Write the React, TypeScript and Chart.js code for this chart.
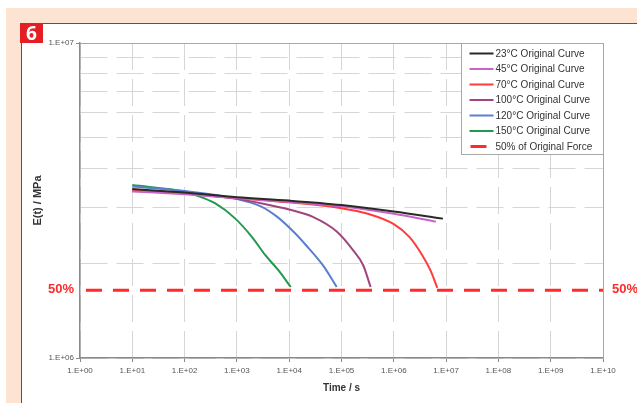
import React, { useEffect, useRef } from "react";
import { Chart, registerables } from "chart.js";

Chart.register(...registerables);

// ---- data ----
const seriesLabels = [
  "23°C Original Curve",
  "45°C Original Curve",
  "70°C Original Curve",
  "100°C Original Curve",
  "120°C Original Curve",
  "150°C Original Curve",
];
const halfLabel = "50% of Original Force";

const t23 = [10, 100, 1000, 1e4, 1e5, 1e6, 8.7e6];
const e23 = [3.44e6, 3.35e6, 3.24e6, 3.16e6, 3.06e6, 2.92e6, 2.77e6];

const t45 = [10, 100, 1000, 1e4, 1e5, 1e6, 6.4e6];
const e45 = [3.38e6, 3.31e6, 3.22e6, 3.13e6, 3.03e6, 2.87e6, 2.71e6];

const t70 = [10, 100, 1000, 1e4, 1e5, 3.2e5, 1e6, 2e6, 3.5e6, 5e6, 6.8e6];
const e70 = [3.4e6, 3.33e6, 3.22e6, 3.12e6, 2.99e6, 2.87e6, 2.66e6, 2.42e6, 2.12e6, 1.9e6, 1.67e6];

const t100 = [10, 100, 1000, 3.2e3, 1e4, 2.9e4, 8.1e4, 1.66e5, 2.6e5, 3.6e5];
const e100 = [3.42e6, 3.33e6, 3.2e6, 3.09e6, 2.96e6, 2.8e6, 2.52e6, 2.2e6, 1.97e6, 1.68e6];

const t120 = [10, 100, 1000, 3e3, 6e3, 1.2e4, 2.1e4, 4.5e4, 8.1e4];
const e120 = [3.5e6, 3.39e6, 3.2e6, 3.02e6, 2.8e6, 2.52e6, 2.28e6, 1.96e6, 1.68e6];

const t150 = [10, 100, 160, 380, 910, 1950, 3500, 6200, 1.07e4];
const e150 = [3.54e6, 3.37e6, 3.29e6, 3.1e6, 2.78e6, 2.42e6, 2.12e6, 1.9e6, 1.68e6];

const halfForce = 1.64e6;
const halfRange = [1, 1e10];

const xTickValues = [1, 1e1, 1e2, 1e3, 1e4, 1e5, 1e6, 1e7, 1e8, 1e9, 1e10];
const xTickLabels = ["1.E+00", "1.E+01", "1.E+02", "1.E+03", "1.E+04", "1.E+05", "1.E+06", "1.E+07", "1.E+08", "1.E+09", "1.E+10"];
const yTickValues = [1e6, 2e6, 3e6, 4e6, 5e6, 6e6, 7e6, 8e6, 9e6, 1e7];
const yTickLabels = ["1.E+06", "", "", "", "", "", "", "", "", "1.E+07"];

const seriesColors = ["#2a2a26", "#c864c8", "#ff3b3b", "#a0457f", "#5a7fd0", "#22994e"];
const halfColor = "#ff2a2a";

const FONT = "'Liberation Sans', Arial, sans-serif";

const pts = (t: number[], e: number[]) => t.map((x, i) => ({ x, y: e[i] }));

export default function App() {
  const ref = useRef<HTMLCanvasElement | null>(null);

  useEffect(() => {
    if (!ref.current) return;
    const seriesData = [pts(t23, e23), pts(t45, e45), pts(t70, e70), pts(t100, e100), pts(t120, e120), pts(t150, e150)];

    const datasets: any[] = seriesData.map((d, i) => ({
      label: seriesLabels[i],
      data: d,
      borderColor: seriesColors[i],
      backgroundColor: seriesColors[i],
      borderWidth: 2,
      pointRadius: 0,
      cubicInterpolationMode: "monotone",
      fill: false,
    }));
    datasets.push({
      label: halfLabel,
      data: halfRange.map((x) => ({ x, y: halfForce })),
      borderColor: halfColor,
      backgroundColor: halfColor,
      borderWidth: 3,
      borderDash: [16, 11],
      borderDashOffset: 21,
      pointRadius: 0,
      fill: false,
    });

    const framePlugin = {
      id: "frame",
      beforeDatasetsDraw(chart: any) {
        const { ctx, chartArea: a } = chart;
        ctx.save();
        ctx.strokeStyle = "#a8a8a8";
        ctx.lineWidth = 1;
        ctx.beginPath();
        ctx.moveTo(a.left, a.top + 0.5);
        ctx.lineTo(a.right + 0.5, a.top + 0.5);
        ctx.lineTo(a.right + 0.5, a.bottom);
        ctx.stroke();
        ctx.restore();
      },
    };

    const legendPlugin = {
      id: "boxLegend",
      afterDatasetsDraw(chart: any) {
        const { ctx, chartArea: a } = chart;
        const w = 142;
        const h = 111;
        const left = a.right + 0.5 - w;
        const top = a.top + 0.5;
        ctx.save();
        ctx.fillStyle = "#ffffff";
        ctx.fillRect(left, top, w, h);
        ctx.strokeStyle = "#a8a8a8";
        ctx.lineWidth = 1;
        ctx.strokeRect(left, top, w, h);
        ctx.font = `10px ${FONT}`;
        ctx.textBaseline = "middle";
        ctx.textAlign = "left";
        chart.data.datasets.forEach((ds: any, i: number) => {
          const y = top + 10 + i * 15.5;
          ctx.strokeStyle = ds.borderColor;
          if (ds.borderDash) {
            ctx.lineWidth = 3;
            ctx.beginPath();
            ctx.moveTo(left + 9, y);
            ctx.lineTo(left + 25, y);
            ctx.stroke();
          } else {
            ctx.lineWidth = 2;
            ctx.beginPath();
            ctx.moveTo(left + 8, y);
            ctx.lineTo(left + 32, y);
            ctx.stroke();
          }
          ctx.fillStyle = "#333333";
          ctx.fillText(ds.label, left + 34, y + 0.5);
        });
        ctx.restore();
      },
    };

    const halfTextPlugin = {
      id: "halfText",
      afterDraw(chart: any) {
        const { ctx, chartArea: a } = chart;
        const y = chart.scales.y.getPixelForValue(halfForce);
        ctx.save();
        ctx.font = `bold 13px ${FONT}`;
        ctx.fillStyle = halfColor;
        ctx.textBaseline = "middle";
        ctx.textAlign = "right";
        ctx.fillText("50%", a.left - 6, y - 1);
        ctx.textAlign = "left";
        ctx.fillText("50%", a.right + 9, y - 1);
        ctx.restore();
      },
    };

    const chart = new Chart(ref.current, {
      type: "line",
      data: { datasets },
      options: {
        animation: false,
        responsive: false,
        devicePixelRatio: 1,
        layout: { padding: { left: 21, top: 43, right: 34, bottom: 0 } },
        plugins: {
          legend: { display: false },
          tooltip: { enabled: false },
        },
        scales: {
          x: {
            type: "logarithmic",
            min: 1,
            max: 1e10,
            afterBuildTicks: (scale: any) => {
              scale.ticks = xTickValues.map((v) => ({ value: v }));
            },
            afterFit: (scale: any) => {
              scale.height = 45;
            },
            ticks: {
              autoSkip: false,
              maxRotation: 0,
              minRotation: 0,
              padding: 4,
              color: "#555555",
              font: { family: FONT, size: 8 },
              callback: (v: any) => {
                const i = xTickValues.indexOf(Number(v));
                return i >= 0 ? xTickLabels[i] : "";
              },
            },
            grid: {
              color: "#d6d6d6",
              lineWidth: 1,
              tickLength: 4,
              tickColor: "#8a8a8a",
            },
            border: { display: true, color: "#8a8a8a", width: 1.5, dash: [27, 9] },
            title: {
              display: true,
              text: "Time / s",
              color: "#333333",
              font: { family: FONT, size: 10, weight: "bold" },
              padding: { top: 0, bottom: 9 },
            },
          },
          y: {
            type: "logarithmic",
            min: 1e6,
            max: 1e7,
            afterBuildTicks: (scale: any) => {
              scale.ticks = yTickValues.map((v) => ({ value: v }));
            },
            afterFit: (scale: any) => {
              scale.width = 59;
            },
            ticks: {
              autoSkip: false,
              padding: 2,
              color: "#555555",
              font: { family: FONT, size: 8 },
              callback: (v: any) => {
                const i = yTickValues.indexOf(Number(v));
                return i >= 0 ? yTickLabels[i] : "";
              },
            },
            grid: {
              color: "#d6d6d6",
              lineWidth: 1,
              tickLength: 4,
              tickColor: (c: any) => {
                const i = yTickValues.indexOf(c.tick ? c.tick.value : NaN);
                return i >= 0 && yTickLabels[i] ? "#8a8a8a" : "rgba(0,0,0,0)";
              },
            },
            border: { display: true, color: "#8a8a8a", width: 1.5, dash: [27, 9] },
            title: {
              display: true,
              text: "E(t) / MPa",
              color: "#333333",
              font: { family: FONT, size: 11, weight: "bold" },
              padding: { top: 10, bottom: 0 },
            },
          },
        },
      },
      plugins: [framePlugin, legendPlugin, halfTextPlugin],
    } as any);

    return () => chart.destroy();
  }, []);

  return (
    <div
      style={{
        position: "fixed",
        left: 0,
        top: 0,
        width: 637,
        height: 403,
        background: "#ffffff",
        overflow: "hidden",
      }}
    >
      <div style={{ position: "absolute", left: 6, top: 8, right: 0, bottom: 0, background: "#fde3d1" }} />
      <div
        style={{
          position: "absolute",
          left: 21,
          top: 23,
          right: 0,
          bottom: 0,
          background: "#ffffff",
          borderTop: "1px solid #555555",
          borderLeft: "1px solid #555555",
        }}
      />
      <canvas
        ref={ref}
        width={637}
        height={403}
        style={{ position: "absolute", left: 0, top: 0, width: 637, height: 403, display: "block" }}
      />
      <div
        style={{
          position: "absolute",
          left: 20,
          top: 23,
          width: 23,
          height: 20,
          background: "#e31e24",
          color: "#ffffff",
          fontFamily: "'Open Sans', 'Liberation Sans', sans-serif",
          fontWeight: 700,
          fontSize: 19,
          lineHeight: "20px",
          textAlign: "center",
        }}
      >
        6
      </div>
    </div>
  );
}
